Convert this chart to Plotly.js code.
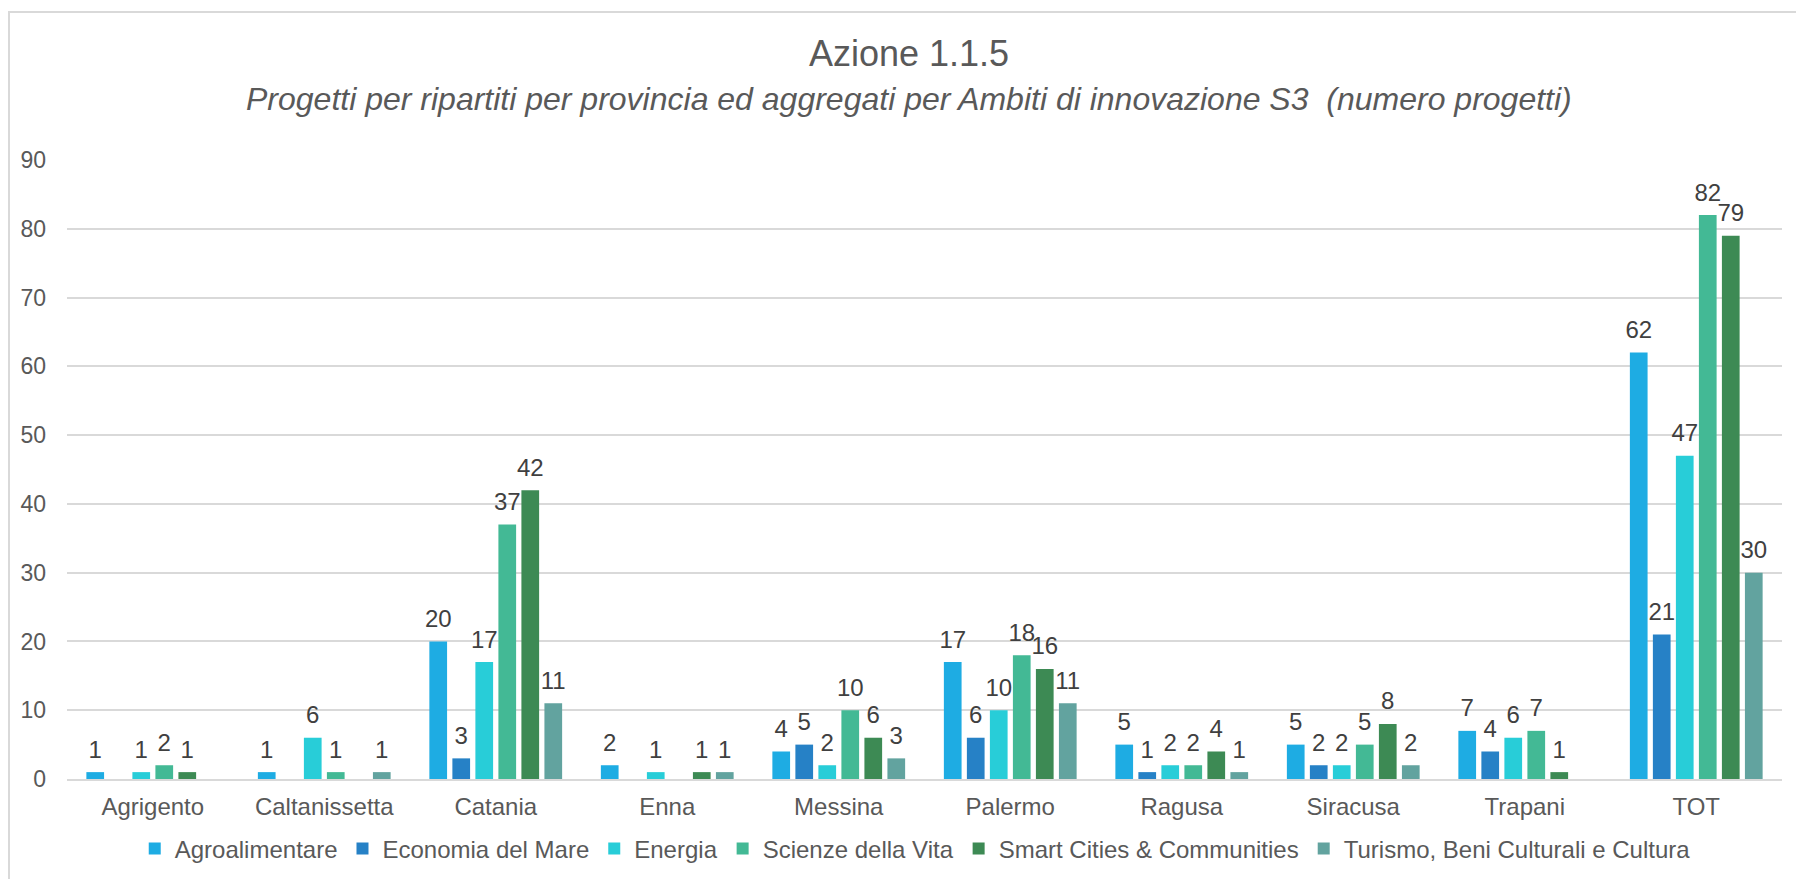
<!DOCTYPE html>
<html>
<head>
<meta charset="utf-8">
<script src="https://cdn.plot.ly/plotly-3.0.1.min.js"></script>
<style>
  html, body { margin: 0; padding: 0; background: #ffffff; }
  #wrap { position: relative; width: 1796px; height: 879px; overflow: hidden; }
  #chart { width: 1796px; height: 879px; }
  #frame { position: absolute; left: 8px; top: 11px; width: 1900px; height: 1000px;
           border-left: 2px solid #d9d9d9; border-top: 2px solid #d9d9d9; pointer-events: none; }
</style>
</head>
<body>
<div id="wrap">
  <div id="chart"></div>
  <div id="frame"></div>
</div>
<script>
const provinces = ["Agrigento", "Caltanissetta", "Catania", "Enna", "Messina", "Palermo", "Ragusa", "Siracusa", "Trapani", "TOT"];

const agroalimentare   = [1, 1, 20, 2, 4, 17, 5, 5, 7, 62];
const economiaDelMare  = [0, 0, 3, 0, 5, 6, 1, 2, 4, 21];
const energia          = [1, 6, 17, 1, 2, 10, 2, 2, 6, 47];
const scienzeDellaVita = [2, 1, 37, 0, 10, 18, 2, 5, 7, 82];
const smartCities      = [1, 0, 42, 1, 6, 16, 4, 8, 1, 79];
const turismo          = [0, 1, 11, 1, 3, 11, 1, 2, 0, 30];

const seriesNames = ["Agroalimentare", "Economia del Mare", "Energia", "Scienze della Vita",
                     "Smart Cities & Communities", "Turismo, Beni Culturali e Cultura"];
const seriesValues = [agroalimentare, economiaDelMare, energia, scienzeDellaVita, smartCities, turismo];
const seriesColors = ["#1eace3", "#2681c6", "#28cdd8", "#43b995", "#3d8a54", "#62a39f"];

const FONT = "Liberation Sans, Arial, Helvetica, sans-serif";

const barTraces = seriesValues.map((vals, i) => ({
  type: "bar",
  name: seriesNames[i],
  x: provinces,
  y: vals,
  marker: { color: seriesColors[i] },
  hoverinfo: "x+y+name"
}));

// value labels, grouped the same way as the bars
const labelTraces = seriesValues.map((vals, i) => ({
  type: "scatter",
  mode: "markers+text",
  name: seriesNames[i] + " (etichette)",
  showlegend: false,
  x: provinces,
  y: vals,
  text: vals.map(v => v === 0 ? "" : String(v)),
  textposition: "top center",
  cliponaxis: false,
  textfont: { family: FONT, size: 24, color: "#404040" },
  marker: { size: 12, color: "rgba(0,0,0,0)" },
  hoverinfo: "skip"
}));

const layout = {
  width: 1796,
  height: 879,
  paper_bgcolor: "#ffffff",
  plot_bgcolor: "#ffffff",
  margin: { l: 67, r: 14, t: 160, b: 100, autoexpand: false },
  barmode: "group",
  bargap: 0.195,
  bargroupgap: 0.23,
  scattermode: "group",
  scattergap: 0.195,
  font: { family: FONT, color: "#595959" },
  showlegend: true,
  legend: {
    orientation: "h",
    x: 0.4946, xanchor: "center",
    y: -0.113, yanchor: "middle",
    font: { family: FONT, size: 24, color: "#595959" },
    traceorder: "normal",
    itemwidth: 30
  },
  xaxis: {
    type: "category",
    automargin: false,
    showgrid: false,
    showline: true,
    linecolor: "#d9d9d9",
    linewidth: 2,
    ticks: "",
    tickfont: { family: FONT, size: 24, color: "#595959" },
    ticklabelstandoff: 5,
    fixedrange: true
  },
  yaxis: {
    range: [0, 90],
    automargin: false,
    tickmode: "linear",
    tick0: 0,
    dtick: 10,
    showgrid: true,
    gridcolor: "#d9d9d9",
    gridwidth: 2,
    zeroline: false,
    showline: false,
    ticks: "",
    tickfont: { family: FONT, size: 23, color: "#595959" },
    ticklabelstandoff: 20,
    fixedrange: true
  },
  annotations: [
    {
      text: "Azione 1.1.5",
      xref: "paper", yref: "paper",
      x: 0.4908, y: 1.1722,
      xanchor: "center", yanchor: "middle",
      showarrow: false,
      font: { family: FONT, size: 36, color: "#595959" }
    },
    {
      text: "<i>Progetti per ripartiti per provincia ed aggregati per Ambiti di innovazione S3&nbsp; (numero progetti)</i>",
      xref: "paper", yref: "paper",
      x: 0.4908, y: 1.0989,
      xanchor: "center", yanchor: "middle",
      showarrow: false,
      font: { family: FONT, size: 32, color: "#595959" }
    }
  ]
};

Plotly.newPlot("chart", barTraces.concat(labelTraces), layout, { displayModeBar: false, staticPlot: true });
</script>
</body>
</html>
